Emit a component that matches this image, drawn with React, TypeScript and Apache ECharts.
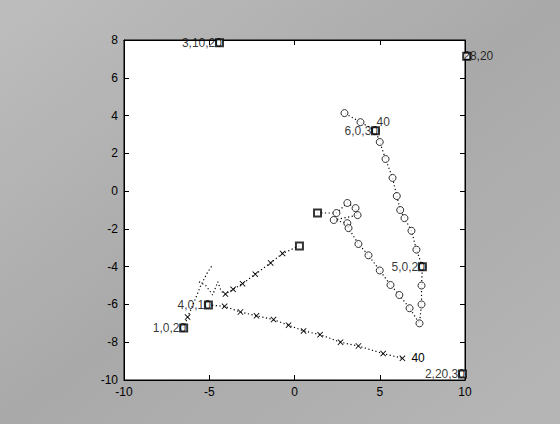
import React, { useEffect, useRef } from "react";
import * as echarts from "echarts";

const FONT = "Arial, 'Liberation Sans', sans-serif";

// circle trajectory (x, y); first point is the start square
const circlePath: number[][] = [
  [1.35, -1.16], [2.46, -1.16], [3.1, -0.63], [3.58, -0.9], [3.7, -1.27], [2.3, -1.53],
  [3.1, -1.7], [3.17, -1.96], [3.75, -2.8], [4.34, -3.4], [5.0, -4.2], [5.63, -4.97],
  [6.15, -5.5], [6.75, -6.2], [7.33, -7.0], [7.45, -6.0], [7.45, -5.0], [7.5, -4.0],
  [7.15, -3.1], [6.86, -2.1], [6.45, -1.43], [6.2, -1.0], [6.0, -0.26], [5.75, 0.7],
  [5.34, 1.7], [5.0, 2.6], [4.75, 3.2], [3.87, 3.65], [2.93, 4.13],
];
// cross trajectories
const crossUpper: number[][] = [
  [0.29, -2.9], [-0.7, -3.3], [-1.4, -3.8], [-2.3, -4.4], [-3.05, -4.9], [-3.6, -5.2], [-4.05, -5.45],
];
const crossLower: number[][] = [
  [-5.05, -6.03], [-4.1, -6.1], [-3.17, -6.4], [-2.23, -6.6], [-1.23, -6.8], [-0.35, -7.1],
  [0.53, -7.4], [1.5, -7.6], [2.7, -8.0], [3.75, -8.2], [5.2, -8.6], [6.33, -8.85],
];
const crossLeft: number[][] = [
  [-6.5, -7.25], [-6.27, -6.67], [-5.9, -5.9], [-5.5, -5.0], [-5.1, -4.3], [-4.8, -3.9],
];
const squiggle: number[][] = [
  [-5.6, -4.8], [-5.2, -5.0], [-4.8, -5.5], [-4.5, -4.8], [-4.3, -5.3], [-4.05, -5.45],
];
// start squares with labels
const squarePoints: number[][] = [
  [-6.5, -7.25], [-5.05, -6.03], [7.5, -4.0], [4.75, 3.2], [-4.4, 7.85], [9.85, -9.68], [10.1, 7.14], [0.29, -2.9], [1.35, -1.16],
];
const squareLabels: string[] = ["1,0,20", "4,0,10", "5,0,20", "6,0,30", "3,10,20", "2,20,30", "28,20", "", ""];
const squareLabelSide: string[] = ["left", "left", "left", "left", "left", "left", "right", "left", "left"];
const endLabel = "40";

const CROSS = "path://M0,1L1,0L5,4L9,0L10,1L6,5L10,9L9,10L5,6L1,10L0,9L4,5Z";

export default function App() {
  const ref = useRef<HTMLDivElement>(null);
  useEffect(() => {
    if (!ref.current) return;
    const chart = echarts.init(ref.current, undefined, { renderer: "svg" });
    const dotted = { color: "#000", width: 1.2, type: [1.2, 2.5] as any };
    const axisCommon = {
      type: "value" as const,
      axisLine: { show: true, onZero: false, lineStyle: { color: "#000", width: 1 } },
      axisTick: { show: true, inside: true, length: 5, lineStyle: { color: "#000" } },
      splitLine: { show: false },
    };
    const lbl = { color: "#000", fontSize: 12, fontFamily: FONT };
    chart.setOption({
      animation: false,
      backgroundColor: {
        type: "linear", x: 0, y: 0, x2: 1, y2: 1,
        colorStops: [
          { offset: 0, color: "#bdbdbd" },
          { offset: 0.5, color: "#a9a9a9" },
          { offset: 1, color: "#b6b6b6" },
        ],
      },
      grid: { left: 124, top: 40, right: 95, bottom: 44, show: true, backgroundColor: "#fff", borderColor: "#000", borderWidth: 1 },
      xAxis: [
        { ...axisCommon, min: -10, max: 10, interval: 5, position: "bottom", axisLabel: { ...lbl, margin: 6 } },
        { ...axisCommon, min: -10, max: 10, interval: 5, position: "top", axisLabel: { show: false } },
      ],
      yAxis: [
        { ...axisCommon, min: -10, max: 8, interval: 2, position: "left", axisLabel: { ...lbl, margin: 6 } },
        { ...axisCommon, min: -10, max: 8, interval: 2, position: "right", axisLabel: { show: false } },
      ],
      series: [
        {
          type: "line",
          data: circlePath,
          symbol: "none",
          lineStyle: dotted,
          z: 3,
        },
        {
          type: "scatter",
          data: circlePath.slice(1).map((p, i, arr) => ({
            value: p,
            label: i === arr.length - 2
              ? { show: true, formatter: endLabel, position: "right", distance: 12, ...lbl }
              : { show: false },
          })),
          symbol: "circle",
          symbolSize: 7,
          itemStyle: { color: "#fff", borderColor: "#000", borderWidth: 1 },
          z: 3,
        },
        {
          type: "line",
          data: crossUpper.map((p, i) => ({ value: p, symbol: i === 0 ? "none" : CROSS })),
          symbolSize: 6,
          showAllSymbol: true,
          lineStyle: dotted,
          itemStyle: { color: "#000" },
          z: 3,
        },
        {
          type: "line",
          data: crossLower.map((p, i) => ({
            value: p,
            symbol: i === 0 ? "none" : CROSS,
            label: i === crossLower.length - 1
              ? { show: true, formatter: endLabel, position: "right", distance: 6, ...lbl }
              : { show: false },
          })),
          symbolSize: 6,
          showAllSymbol: true,
          lineStyle: dotted,
          itemStyle: { color: "#000" },
          z: 3,
        },
        {
          type: "line",
          data: crossLeft.map((p, i) => ({ value: p, symbol: i === 1 ? CROSS : "none" })),
          symbolSize: 6,
          showAllSymbol: true,
          lineStyle: dotted,
          itemStyle: { color: "#000" },
          z: 3,
        },
        {
          type: "line",
          data: squiggle,
          symbol: "none",
          lineStyle: dotted,
          z: 3,
        },
        {
          type: "scatter",
          clip: false,
          symbol: "rect",
          symbolSize: 7,
          itemStyle: { color: "#fff", borderColor: "#000", borderWidth: 2 },
          data: squarePoints.map((p, i) => ({
            value: p,
            label: {
              show: squareLabels[i] !== "",
              formatter: squareLabels[i],
              position: squareLabelSide[i],
              offset: squareLabelSide[i] === "left" ? [12, 0] : [-13, 0],
              ...lbl,
            },
          })),
          z: 4,
        },
      ],
    });
    return () => chart.dispose();
  }, []);
  return <div ref={ref} style={{ position: "fixed", left: 0, top: 0, width: 560, height: 424 }} />;
}
